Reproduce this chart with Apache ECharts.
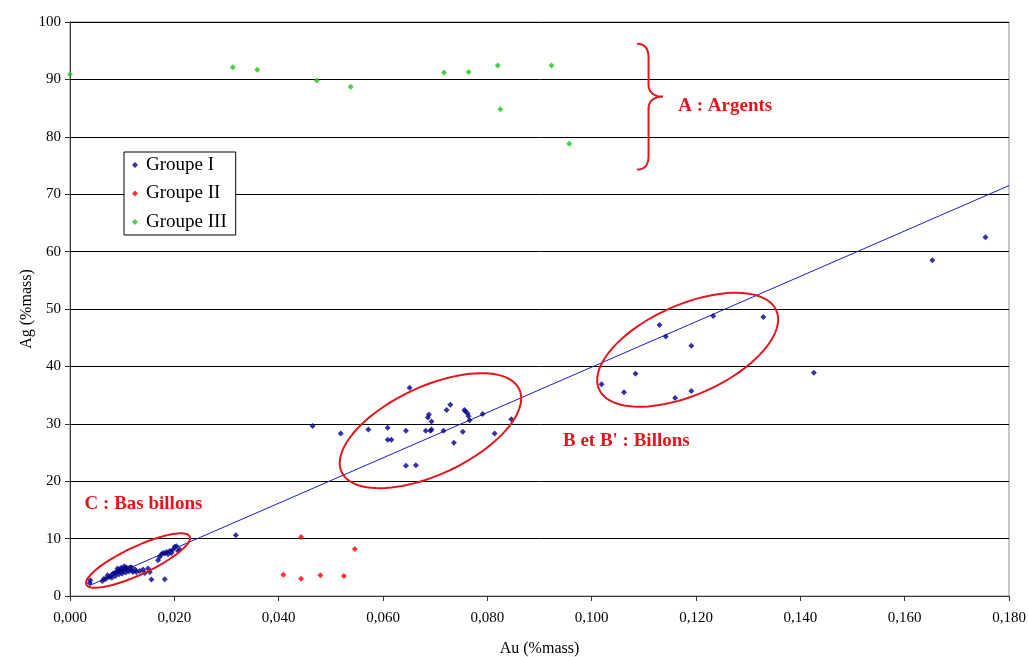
<!DOCTYPE html>
<html>
<head>
<meta charset="utf-8">
<script src="https://cdn.jsdelivr.net/npm/echarts@6/dist/echarts.min.js"></script>
<style>
  html, body { margin: 0; padding: 0; background: #fff; }
  #chart { width: 1028px; height: 657px; }
</style>
</head>
<body>
<div id="chart"></div>
<script>
// Groupe I (Au %mass, Ag %mass)
const groupIAu = [
  0.00378, 0.00391, 0.00621, 0.00685, 0.00748, 0.00794, 0.00825, 0.00857, 0.0089, 0.0092,
  0.00953, 0.00986, 0.01017, 0.01049, 0.01082, 0.01112, 0.01145, 0.01178, 0.01208, 0.01273,
  0.01337, 0.01433, 0.01529, 0.01561, 0.01816, 0.01688, 0.0172, 0.01753, 0.01784, 0.01816,
  0.01849, 0.0188, 0.01912, 0.01944, 0.01976, 0.02008, 0.02041, 0.02072, 0.02104, 0.01496,
  0.0080, 0.0087, 0.0094, 0.0100, 0.0107, 0.0113, 0.0072, 0.0098, 0.0104, 0.0118,
  0.0125, 0.0065, 0.0140, 0.0091,
  0.0318,
  0.0465, 0.0519, 0.0572, 0.0609, 0.0609, 0.0616, 0.0651, 0.0644, 0.0644, 0.0663,
  0.0682, 0.0686, 0.0688, 0.0693, 0.0691, 0.0693, 0.0716, 0.0722, 0.0729, 0.0736,
  0.0753, 0.0756, 0.0758, 0.0762, 0.0764, 0.0766, 0.0791, 0.0814, 0.0846,
  0.1019, 0.1062, 0.1084, 0.1130, 0.1142, 0.1160, 0.1191, 0.1191, 0.1233, 0.1329,
  0.1426, 0.1653, 0.1755
];
const groupIAg = [
  2.27, 2.74, 2.62, 2.97, 3.32, 3.61, 3.91, 4.02, 4.19, 4.37,
  4.49, 4.61, 4.37, 4.78, 4.96, 4.61, 4.96, 4.49, 4.19, 4.19,
  4.37, 4.02, 4.19, 2.86, 2.92, 6.23, 6.81, 7.28, 7.51, 7.40,
  7.68, 7.28, 7.86, 7.51, 8.10, 8.56, 8.68, 7.86, 8.10, 4.78,
  3.2, 3.5, 3.8, 3.9, 4.1, 4.3, 3.6, 4.9, 5.2, 5.0,
  4.6, 3.0, 4.6, 4.8,
  10.6,
  29.6, 28.3, 29.0, 29.3, 27.2, 27.2, 36.3, 28.8, 22.7, 22.8,
  28.8, 31.1, 31.6, 30.4, 28.8, 29.0, 28.8, 32.4, 33.3, 26.7,
  28.6, 32.4, 32.2, 31.8, 31.3, 30.6, 31.7, 28.3, 30.8,
  36.9, 35.5, 38.7, 47.2, 45.2, 34.5, 43.6, 35.7, 48.8, 48.6,
  38.9, 58.5, 62.5
];

// Groupe II
const groupIIAu = [0.0443, 0.0546, 0.0409, 0.0443, 0.0480, 0.0525];
const groupIIAg = [10.3, 8.2, 3.7, 3.0, 3.6, 3.5];

// Groupe III
const groupIIIAu = [0.0000, 0.0312, 0.0359, 0.0473, 0.0538, 0.0717, 0.0764, 0.0820, 0.0825, 0.0923, 0.0957];
const groupIIIAg = [90.9, 92.1, 91.7, 89.8, 88.7, 91.2, 91.3, 92.4, 84.8, 92.4, 78.8];

// linear trend of Groupe I (end points)
const trendAu = [0.0038, 0.18];
const trendAg = [1.85, 71.5];

const xTicks = { min: 0, max: 0.18, step: 0.02 };
const yTicks = { min: 0, max: 100, step: 10 };

const serif = "'Liberation Serif', 'Times New Roman', serif";
const annotRed = '#e3161b';

const zip = (a, b) => a.map((v, i) => [v, b[i]]);

const chart = echarts.init(document.getElementById('chart'));

const option = {
  animation: false,
  textStyle: { fontFamily: serif },
  grid: {
    left: 70, right: 19, top: 22, bottom: 61,
    outerBoundsMode: 'none',
    show: true, borderColor: '#8c8c8c', borderWidth: 1
  },
  legend: {
    data: ['Groupe I', 'Groupe II', 'Groupe III'],
    orient: 'vertical',
    left: 124, top: 152,
    backgroundColor: '#fff',
    borderColor: '#000', borderWidth: 1,
    padding: [2, 9, 2, 8],
    itemWidth: 6, itemHeight: 6,
    itemGap: 6.5,
    icon: 'diamond',
    textStyle: { fontFamily: serif, fontSize: 19, color: '#000', lineHeight: 22, padding: [0, 0, 0, 3] }
  },
  xAxis: {
    type: 'value',
    min: xTicks.min, max: xTicks.max, interval: xTicks.step,
    name: 'Au (%mass)', nameLocation: 'middle', nameGap: 45, nameMoveOverlap: false,
    nameTextStyle: { fontFamily: serif, fontSize: 16, color: '#000' },
    axisLine: { lineStyle: { color: '#333', width: 1 } },
    axisTick: { show: true, length: 5, lineStyle: { color: '#333' } },
    axisLabel: {
      margin: 15, fontFamily: serif, fontSize: 15, color: '#000',
      formatter: v => v.toFixed(3).replace('.', ',')
    },
    splitLine: { show: false }
  },
  yAxis: {
    type: 'value',
    min: yTicks.min, max: yTicks.max, interval: yTicks.step,
    name: 'Ag (%mass)', nameLocation: 'middle', nameGap: 35, nameMoveOverlap: false,
    nameTextStyle: { fontFamily: serif, fontSize: 16, color: '#000' },
    axisLine: { show: true, lineStyle: { color: '#333', width: 1 } },
    axisTick: { show: true, length: 5, lineStyle: { color: '#333' } },
    axisLabel: { margin: 9, fontFamily: serif, fontSize: 15, color: '#000' },
    splitLine: { show: true, lineStyle: { color: '#000', width: 1 } }
  },
  series: [
    {
      name: 'Trend', type: 'line', data: zip(trendAu, trendAg),
      showSymbol: false, silent: true,
      lineStyle: { color: '#1a1acc', width: 1 }, z: 1
    },
    {
      name: 'Groupe I', type: 'scatter', data: zip(groupIAu, groupIAg),
      symbol: 'diamond', symbolSize: 6,
      itemStyle: { color: '#00008b' }, z: 3
    },
    {
      name: 'Groupe II', type: 'scatter', data: zip(groupIIAu, groupIIAg),
      symbol: 'diamond', symbolSize: 6,
      itemStyle: { color: '#ff0000' }, z: 3
    },
    {
      name: 'Groupe III', type: 'scatter', data: zip(groupIIIAu, groupIIIAg),
      symbol: 'diamond', symbolSize: 6,
      itemStyle: { color: '#1fc41f' }, z: 3
    }
  ]
};
chart.setOption(option);

// annotations, anchored on data coordinates
const toPx = (x, y) => chart.convertToPixel({ gridIndex: 0 }, [x, y]);

const ellipses = [
  { au: 0.01304, ag: 6.18, rx: 57, ry: 14, rot: 25 },
  { au: 0.0691, ag: 28.8, rx: 98, ry: 44, rot: 25 },
  { au: 0.1184, ag: 42.9, rx: 97, ry: 45, rot: 24 }
];

const ellipsePoints = (e) => {
  const [cx, cy] = toPx(e.au, e.ag);
  const th = e.rot * Math.PI / 180;
  const pts = [];
  for (let i = 0; i < 96; i++) {
    const t = i / 96 * Math.PI * 2;
    const a = e.rx * Math.cos(t), b = e.ry * Math.sin(t);
    pts.push([cx + a * Math.cos(th) + b * Math.sin(th), cy - a * Math.sin(th) + b * Math.cos(th)]);
  }
  return pts;
};

const bez = (p0, p1, p2, p3, out) => {
  for (let i = 1; i <= 16; i++) {
    const t = i / 16, u = 1 - t;
    out.push([
      u * u * u * p0[0] + 3 * u * u * t * p1[0] + 3 * u * t * t * p2[0] + t * t * t * p3[0],
      u * u * u * p0[1] + 3 * u * u * t * p1[1] + 3 * u * t * t * p2[1] + t * t * t * p3[1]
    ]);
  }
};

// brace: left x, top y, tip y, bottom y (data units)
const brace = { au: 0.1087, top: 96.2, tip: 87.0, bottom: 74.3 };
const bracePoints = () => {
  const [x0, yT] = toPx(brace.au, brace.top);
  const yM = toPx(brace.au, brace.tip)[1];
  const yB = toPx(brace.au, brace.bottom)[1];
  const xl = x0 + 11.5, xt = x0 + 26;
  const pts = [[x0, yT]];
  bez([x0, yT], [x0 + 8, yT], [xl, yT + 5], [xl, yT + 14], pts);
  pts.push([xl, yM - 12]);
  bez([xl, yM - 12], [xl, yM - 4], [xl + 6, yM], [xt, yM], pts);
  bez([xt, yM], [xl + 6, yM], [xl, yM + 4], [xl, yM + 12], pts);
  pts.push([xl, yB - 14]);
  bez([xl, yB - 14], [xl, yB - 5], [x0 + 8, yB], [x0, yB], pts);
  return pts;
};

const labels = [
  { text: 'A : Argents', au: 0.1166, ag: 85.3 },
  { text: "B et B' : Billons", au: 0.0945, ag: 27.0 },
  { text: 'C : Bas billons', au: 0.0028, ag: 16.0 }
];

const graphic = [];
ellipses.forEach(e => graphic.push({
  type: 'polygon', shape: { points: ellipsePoints(e) }, z: 10, silent: true,
  style: { fill: 'none', stroke: annotRed, lineWidth: 2 }
}));
graphic.push({
  type: 'polyline', shape: { points: bracePoints() }, z: 10, silent: true,
  style: { fill: 'none', stroke: annotRed, lineWidth: 2 }
});
labels.forEach(l => {
  const [x, y] = toPx(l.au, l.ag);
  graphic.push({
    type: 'text', x: x, y: y, z: 10, silent: true,
    style: {
      text: l.text, fill: annotRed, font: 'bold 19px ' + serif,
      textAlign: 'left', textVerticalAlign: 'middle'
    }
  });
});
chart.setOption({ graphic: graphic });
</script>
</body>
</html>
